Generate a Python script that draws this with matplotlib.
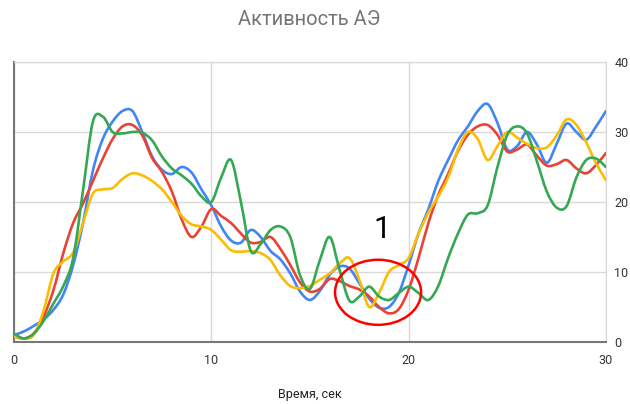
import numpy as np
import matplotlib
matplotlib.use("Agg")
import matplotlib.pyplot as plt
from matplotlib.path import Path
from matplotlib.patches import PathPatch, Ellipse

plt.rcParams['font.family'] = ['Roboto', 'DejaVu Sans']

# время, сек (шаг 0.5)
t = np.arange(0, 30.01, 0.5)

blue = [1.0, 1.5, 2.3, 3.2, 4.6, 6.8, 11.0, 17.0, 24.5, 29.0, 31.5, 33.0, 33.0, 30.0,
        26.5, 24.6, 24.0, 25.0, 24.2, 21.8, 19.5, 16.5, 14.5, 14.2, 16.0, 15.0, 13.0,
        11.8, 9.8, 7.2, 6.0, 7.3, 9.6, 10.8, 10.5, 8.4, 6.2, 4.9, 5.0, 7.0, 11.0, 15.5,
        19.0, 23.0, 26.0, 28.8, 30.8, 33.0, 34.0, 31.3, 27.5, 28.0, 30.0, 28.2, 25.6,
        28.3, 31.2, 30.0, 28.9, 30.8, 33.0]
red = [0.8, 0.5, 1.2, 3.6, 7.4, 12.7, 17.0, 19.8, 23.0, 26.2, 29.0, 30.8, 31.0, 29.5,
       26.3, 24.3, 21.5, 17.5, 15.0, 16.5, 19.0, 18.0, 17.0, 15.5, 14.2, 14.3, 15.0,
       13.3, 11.0, 8.5, 7.2, 7.6, 9.0, 8.7, 8.0, 7.5, 6.5, 5.0, 4.1, 4.7, 7.5, 12.0,
       17.0, 21.0, 24.0, 27.3, 29.6, 30.8, 31.0, 29.6, 27.2, 27.5, 28.2, 26.6, 25.2,
       25.4, 26.0, 24.8, 24.1, 25.3, 27.0]
yellow = [0.8, 0.5, 1.0, 4.5, 9.8, 11.5, 12.8, 17.0, 21.2, 21.8, 22.0, 23.3, 24.1, 23.8,
          23.0, 21.8, 20.0, 18.0, 16.8, 16.5, 16.0, 14.6, 13.1, 12.9, 13.0, 12.7, 11.7,
          9.5, 8.0, 7.7, 8.0, 8.9, 9.8, 11.2, 12.0, 8.9, 5.0, 7.0, 10.0, 11.0, 12.0, 15.5,
          18.5, 20.8, 23.5, 27.5, 30.0, 29.0, 26.0, 28.0, 30.0, 29.2, 28.3, 27.7, 27.8,
          29.5, 31.8, 31.0, 28.5, 25.5, 23.1]
green = [1.2, 0.5, 1.2, 3.0, 5.5, 8.0, 12.0, 21.7, 31.5, 32.2, 30.0, 29.8, 30.0, 29.9,
         28.8, 26.5, 24.8, 23.8, 22.6, 20.8, 20.0, 23.5, 26.0, 20.0, 13.0, 14.0, 16.0,
         16.5, 15.0, 9.5, 7.6, 11.7, 15.0, 10.3, 5.9, 6.5, 7.9, 6.5, 6.0, 7.0, 7.9, 7.0,
         6.0, 8.0, 12.0, 15.5, 18.2, 18.4, 19.5, 25.0, 29.6, 30.8, 29.8, 25.8, 21.5,
         19.2, 19.4, 23.5, 26.0, 26.2, 25.0]

series = [(blue, '#4285F4'), (red, '#EA4335'), (yellow, '#FBBC04'), (green, '#34A853')]


def smooth_path(x, y):
    # Catmull-Rom -> кубические Безье
    p = np.column_stack([x, y])
    p = np.vstack([p[0], p, p[-1]])
    verts = [p[1]]
    codes = [Path.MOVETO]
    for i in range(1, len(p) - 2):
        c1 = p[i] + (p[i + 1] - p[i - 1]) / 6
        c2 = p[i + 1] - (p[i + 2] - p[i]) / 6
        verts += [c1, c2, p[i + 1]]
        codes += [Path.CURVE4] * 3
    return Path(verts, codes)


fig = plt.figure(figsize=(6.3, 4.04), dpi=100)
ax = fig.add_axes([0.0222, 0.1535, 0.9397, 0.693])

for vals, col in series:
    ax.add_patch(PathPatch(smooth_path(t, np.array(vals)), fill=False,
                           edgecolor=col, lw=1.9, capstyle='round', joinstyle='round', zorder=3))

ax.set_xlim(0, 30)
ax.set_ylim(0, 40)
ax.set_xticks([0, 10, 20, 30])
ax.set_yticks([0, 10, 20, 30, 40])
ax.grid(True, color='#d9d9d9', lw=1)
ax.set_axisbelow(True)
ax.yaxis.tick_right()
ax.tick_params(length=0, labelsize=9, colors='#333333')
ax.tick_params(axis='x', pad=9)
ax.tick_params(axis='y', pad=6)
for s in ['top', 'right']:
    ax.spines[s].set_color('#d9d9d9')
for s in ['left', 'bottom']:
    ax.spines[s].set_color('#777777')
    ax.spines[s].set_linewidth(1.5)

ax.set_xlabel('Время, сек', fontsize=9, color='#222222', labelpad=15)
fig.suptitle('Активность АЭ', x=0.49, y=0.975, fontsize=14.5, color='#757575')

ax.text(18.65, 16, '1', fontsize=22, ha='center', va='center', color='black', zorder=5)
ax.add_patch(Ellipse((18.45, 7.1), 4.36, 9.3, fill=False, edgecolor='#ff0000', lw=1.8, zorder=5))

fig.savefig('out.png', dpi=100)
